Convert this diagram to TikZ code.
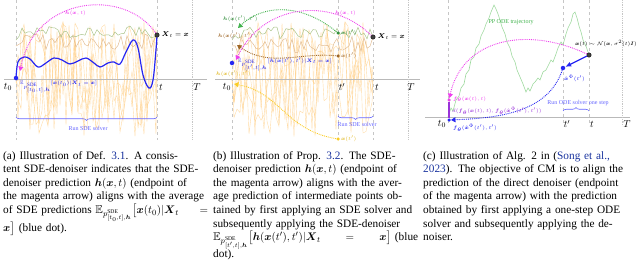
\documentclass[tikz,border=0pt]{standalone}
\usepackage{amsmath,amssymb}
\usepackage{fontspec}
\setmainfont{Liberation Serif}
\usepackage{tikz}
\usetikzlibrary{arrows.meta,positioning,calc,decorations.pathreplacing}
\setlength{\parindent}{0pt}
\definecolor{magc}{rgb}{0.93,0.25,0.93}
\definecolor{bluec}{rgb}{0.15,0.15,0.95}
\definecolor{runblue}{rgb}{0.4,0.4,1}
\definecolor{greenc}{rgb}{0.25,0.7,0.3}
\definecolor{brownc}{rgb}{0.62,0.4,0.15}
\definecolor{yellowc}{rgb}{0.98,0.8,0.15}
\definecolor{purplec}{rgb}{0.6,0.2,0.85}
\definecolor{olivegr}{rgb}{0.65,0.76,0.52}
\definecolor{tanc}{rgb}{0.88,0.72,0.55}
\definecolor{noisec}{rgb}{1,0.8,0.5}
\definecolor{odegreen}{rgb}{0.62,0.85,0.62}
\definecolor{linkblue}{rgb}{0.1,0.2,0.62}
\newcommand{\bx}{\boldsymbol{x}}
\newcommand{\bX}{\boldsymbol{X}}
\newcommand{\bh}{\boldsymbol{h}}
\newcommand{\bI}{\boldsymbol{I}}
\newcommand{\fth}{\boldsymbol{f}_{\boldsymbol{\theta}}}
\newcommand{\xhat}{\hat{\bx}^{\Phi}}
\newcommand{\Esde}[1]{\mathbb{E}_{p^{\mathrm{SDE}}_{#1,\bh}}}
\newcommand{\jline}[1]{\makebox[205pt][s]{#1}\\}

\begin{document}
\begin{tikzpicture}[x=1pt, y=-1pt, >={Latex[length=2.2mm]}]
  \tikzset{axisline/.style={gray!55, line width=0.9pt},
           tline/.style={gray!45, dashed, line width=0.6pt},
           Tline/.style={gray!45, densely dotted, line width=0.8pt},
           noisy/.style={noisec, line width=0.4pt, opacity=0.7},
           dotn/.style={circle, inner sep=0pt, minimum size=4.5pt, fill=#1},
           lbl/.style={font=\fontsize{5}{6}\selectfont, inner sep=1pt, anchor=west},
           xlbl/.style={font=\fontsize{7}{8}\selectfont, inner sep=1pt},
           tlbl/.style={font=\fontsize{10}{11}\selectfont, inner sep=0pt},
           runlbl/.style={font=\fontsize{6}{7}\selectfont, text=runblue, inner sep=1pt},
           pred/.style={densely dotted, line width=0.9pt, -{Triangle[length=4.5pt, width=5pt]}},
           runbrace/.style={decorate, decoration={brace, amplitude=3.5pt, mirror}, runblue, line width=0.6pt},
           runbraceup/.style={decorate, decoration={brace, amplitude=3.5pt}, runblue, line width=0.6pt},
           capt/.style={anchor=north west, inner sep=0pt, text width=205pt, align=left,
                        font=\fontsize{11.3}{13.6}\selectfont}}
  \useasboundingbox (0,0) rectangle (640,260);
  \pgfmathsetseed{11}

  % (a) sample paths of the SDE solver
  \foreach \k in {1,...,5}
    \draw[noisy] (16,79) \foreach \xx in {18,21,...,156} { -- (\xx,{79+58*rand}) } -- (157,79);
  \draw[tanc, line width=0.45pt] (16,46) \foreach \xx in {19,22,...,154} { -- (\xx,{42+8*rand}) } -- (157,35);
  \draw[olivegr, line width=0.45pt] (16,40) \foreach \xx in {19,22,...,154} { -- (\xx,{32+6*rand}) } -- (157,35);
  \draw[axisline] (4,79) -- (207,79);
  \draw[tline] (16,0) -- (16,140);
  \draw[tline] (157,0) -- (157,140);
  \draw[Tline] (192,0) -- (192,140);
  \node[tlbl] (a0) at (8,87) {$t_0$};
  \node[tlbl] (at) at (161,87) {$t$};
  \node[tlbl] (aT) at (197,87) {$T$};

  \draw[bluec, line width=1.2pt] plot[smooth, tension=0.6] coordinates {(16,78) (18,62) (24,57)
    (30,59) (38,67) (46,63) (54,58) (62,60) (70,64) (78,61) (86,58) (94,63) (100,67) (108,63)
    (114,62) (120,64) (126,52) (133,40) (138,48) (143,75) (149,88) (153,80) (156,50) (157,35)};
  \node[dotn=bluec] (Ba) at (16,78) {};
  \node[dotn=black!75, draw=black, line width=0.3pt] (Xa) at (157,35) {};
  \node[xlbl, right=1pt of Xa] (XaL) {$\bX_t = \bx$};
  \coordinate (ha) at (20,71);
  \draw[pred, magc] (Xa) .. controls (125,-12) and (35,-5) .. (ha);
  \node[lbl, text=magc] (haL) at (64,13) {$\bh(\bx,t)$};
  \node[lbl, text=bluec] (EaL) at (19,87) {$\Esde{[t_0,t]}[\bx(t_0)|\bX_t=\bx]$};
  \draw[runbrace] (16,117) -- (157,117);
  \node[runlbl] (runa) at (88,128) {Run SDE solver};

  % (b) sample paths
  \foreach \k in {1,...,5}
    \draw[noisy] (232,79) \foreach \xx in {234,237,...,372} { -- (\xx,{79+58*rand}) } -- (373,79);
  \draw[tanc, line width=0.45pt] (232,46) \foreach \xx in {235,238,...,370} { -- (\xx,{44+9*rand}) } -- (373,37);
  \draw[olivegr, line width=0.45pt] (232,40) \foreach \xx in {235,238,...,370} { -- (\xx,{33+6*rand}) } -- (373,37);
  \draw[axisline] (215,79) -- (420,79);
  \draw[tline] (232,0) -- (232,140);
  \draw[tline] (338,0) -- (338,140);
  \draw[tline] (373,0) -- (373,140);
  \draw[Tline] (408,0) -- (408,140);
  \node[tlbl] (b0) at (227,87) {$t_0$};
  \node[tlbl] (bp) at (342,87) {$t'$};
  \node[tlbl] (bt) at (377,87) {$t$};
  \node[tlbl] (bT) at (411,87) {$T$};

  \node[dotn=black!75, draw=black, line width=0.3pt] (Xb) at (373,37) {};
  \node[xlbl, right=1pt of Xb] (XbL) {$\bX_t = \bx$};
  \node[dotn=greenc!80!black, minimum size=3.5pt] (gd) at (338,33) {};
  \node[dotn=brownc, minimum size=3.5pt] (bd) at (338,56) {};
  \node[dotn=yellowc, minimum size=3.5pt] (yd) at (338,139) {};
  \node[dotn=bluec] (Bb) at (232,63) {};
  \node[lbl, text=greenc!80!black, right=0pt of gd] {$\bx(t')$};
  \node[lbl, text=brownc, right=0pt of bd] {$\bx(t')$};
  \node[lbl, text=yellowc!90!black, right=0pt of yd] {$\bx(t')$};

  \coordinate (hg) at (238,28);
  \coordinate (hb) at (237,45);
  \coordinate (hm) at (236,60);
  \coordinate (hy) at (234,84);
  \draw[pred, greenc] (gd) .. controls (300,2) and (262,5) .. (hg);
  \draw[pred, brownc] (bd) .. controls (300,52) and (270,68) .. (hb);
  \draw[pred, magc] (Xb) .. controls (330,-5) and (262,5) .. (hm);
  \draw[pred, yellowc] (yd) .. controls (285,130) and (280,92) .. (hy);
  \node[lbl, text=greenc!80!black] at (222,19) {$\bh(\bx(t'),t')$};
  \node[lbl, text=brownc] at (217,36) {$\bh(\bx(t'),t')$};
  \node[lbl, text=yellowc!90!black] at (215,74) {$\bh(\bx(t'),t')$};
  \node[lbl, text=magc] at (334,13) {$\bh(\bx,t)$};
  \node[lbl, text=bluec] at (237,64) {$\Esde{[t',t]}[\bh(\bx(t'),t')|\bX_t=\bx]$};
  \draw[runbrace] (338,116) -- (373,116);
  \node[runlbl] (runb) at (357,124) {Run SDE solver};

  % (c) consistency model step
  \draw[axisline] (425,117) -- (630,117);
  \draw[tline] (448,0) -- (448,126);
  \draw[tline] (563,0) -- (563,126);
  \draw[tline] (589,0) -- (589,126);
  \draw[Tline] (622,0) -- (622,126);
  \node[tlbl] (c0) at (442,124) {$t_0$};
  \node[tlbl] (cp) at (567,124) {$t'$};
  \node[tlbl] (ct) at (592,124) {$t$};
  \node[tlbl] (cT) at (627,124) {$T$};

  \draw[odegreen, line width=0.6pt] (448,117) -- (451,108) -- (453,111) -- (456,100) -- (459,96)
    -- (461,88) -- (464,84) -- (466,74) -- (469,70) -- (471,60) -- (474,57) -- (476,48) -- (479,44)
    -- (481,36) -- (484,30) -- (486,24) -- (489,18) -- (491,12) -- (494,5) -- (496,9) -- (498,14)
    -- (500,20) -- (502,27) -- (505,34) -- (507,42) -- (510,48) -- (512,56) -- (515,62) -- (517,70)
    -- (520,77) -- (523,84) -- (526,92) -- (528,88) -- (530,91) -- (533,84) -- (535,82) -- (538,78)
    -- (540,80) -- (543,72) -- (546,70) -- (548,66) -- (551,60) -- (553,62) -- (556,54) -- (558,48)
    -- (561,42) -- (563,45) -- (566,34) -- (568,28) -- (571,22) -- (573,14) -- (575,12) -- (577,18)
    -- (579,26) -- (581,32) -- (583,40) -- (586,46) -- (589,55);
  \node[font=\fontsize{6}{7}\selectfont, text=greenc] (ode) at (511,22) {PP ODE trajectory};

  \node[dotn=black!75, draw=black, line width=0.3pt] (Xc) at (589,55) {};
  \node[lbl, text=black, anchor=east, font=\fontsize{4.6}{5.5}\selectfont] (XcL) at (638,44)
       {$\bx(t)\sim\mathcal{N}(\bx,\sigma^2(t)\bI)$};
  \node[dotn=bluec] (xh) at (563,68) {};
  \node[lbl, text=bluec] (xhL) at (563,78) {$\xhat(t')$};
  \node[dotn=magc, minimum size=3.5pt] (md) at (449,100) {};
  \node[dotn=bluec, minimum size=3.5pt] (bd2) at (449,120) {};
  \draw[purplec, line width=1.5pt] (md) -- (bd2);
  \draw[bluec, line width=1.2pt, -{Latex[length=6pt, width=5pt]}] (Xc) -- (xh);
  \draw[pred, magc] (Xc) .. controls (525,25) and (462,40) .. (md);
  \draw[pred, bluec] (xh) .. controls (548,112) and (500,118) .. (bd2);
  \node[lbl, text=magc] at (452,99) {$\fth(\bx(t),t)$};
  \node[lbl, text=purplec] at (451,111) {$d(\fth(\bx(t),t),\fth(\xhat(t'),t'))$};
  \node[lbl, text=bluec] at (452,128) {$\fth(\xhat(t'),t')$};
  \draw[runbraceup] (563,111) -- (589,111);
  \node[runlbl] (runc) at (578,103) {Run ODE solver one step};

  % captions
  \node[capt] (capa) at (3,151) {%
    \jline{(a) Illustration of Def. \textcolor{linkblue}{3.1}. A consis-}
    \jline{tent SDE-denoiser indicates that the SDE-}
    \jline{denoiser prediction $\bh(\bx,t)$ (endpoint of}
    \jline{the magenta arrow) aligns with the average}
    \jline{of SDE predictions $\Esde{[t_0,t]}\big[\bx(t_0)|\bX_t =$}
    $\bx\big]$ (blue dot).};
  \node[capt] (capb) at (213,151) {%
    \jline{(b) Illustration of Prop. \textcolor{linkblue}{3.2}. The SDE-}
    \jline{denoiser prediction $\bh(\bx,t)$ (endpoint of}
    \jline{the magenta arrow) aligns with the aver-}
    \jline{age prediction of intermediate points ob-}
    \jline{tained by first applying an SDE solver and}
    \jline{subsequently applying the SDE-denoiser}
    \jline{$\Esde{[t',t]}\big[\bh(\bx(t'),t')|\bX_t \;=\; \bx\big]$ (blue}
    dot).};
  \node[capt] (capc) at (423,151) {%
    \jline{(c) Illustration of Alg. 2 in (\textcolor{linkblue}{Song et al.,}}
    \jline{\textcolor{linkblue}{2023}). The objective of CM is to align the}
    \jline{prediction of the direct denoiser (endpoint}
    \jline{of the magenta arrow) with the prediction}
    \jline{obtained by first applying a one-step ODE}
    \jline{solver and subsequently applying the de-}
    noiser.};
\end{tikzpicture}
\end{document}
